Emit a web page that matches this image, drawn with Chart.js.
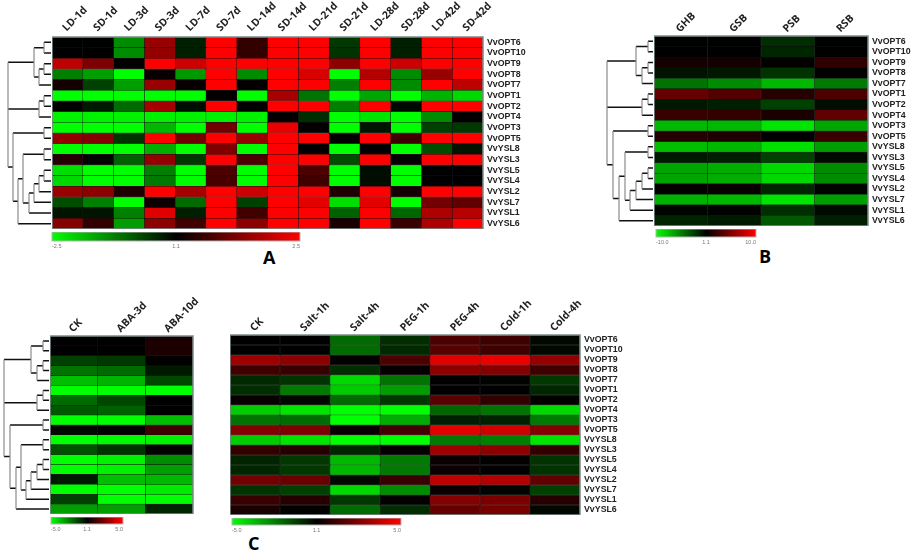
<!DOCTYPE html>
<html>
<head>
<meta charset="utf-8">
<title>Expression heat maps</title>
<script src="https://cdn.jsdelivr.net/npm/chart.js@4"></script>
<style>
  html, body { margin: 0; padding: 0; background: #fff; }
  body { width: 914px; height: 553px; position: relative; overflow: hidden; }
  canvas { position: absolute; }
  .tag { position: absolute; font: bold 18px "Open Sans", sans-serif; line-height: 18px; color: #000; }
</style>
</head>
<body>
<div class="tag" style="left:263px;top:248px">A</div>
<div class="tag" style="left:759px;top:247px">B</div>
<div class="tag" style="left:248px;top:534px">C</div>

<script>
let geneLabels = ['VvOPT6','VvOPT10','VvOPT9','VvOPT8','VvOPT7','VvOPT1','VvOPT2','VvOPT4','VvOPT3','VvOPT5',
  'VvYSL8','VvYSL3','VvYSL5','VvYSL4','VvYSL2','VvYSL7','VvYSL1','VvYSL6'];

let colsA = ['LD-1d','SD-1d','LD-3d','SD-3d','LD-7d','SD-7d','LD-14d','SD-14d','LD-21d','SD-21d','LD-28d','SD-28d','LD-42d','SD-42d'];
let colsB = ['GHB','GSB','PSB','RSB'];
let colsC1 = ['CK','ABA-3d','ABA-10d'];
let colsC2 = ['CK','Salt-1h','Salt-4h','PEG-1h','PEG-4h','Cold-1h','Cold-4h'];

// cell values as percent of the colour scale: -100 full green, 0 black, 100 full red
let valuesA = [
  [0,0,-55,60,-12,100,20,100,100,-22,100,-12,100,100],
  [0,0,-55,58,-12,100,20,100,100,-20,100,-12,100,100],
  [75,50,0,100,80,100,100,100,100,55,100,80,100,100],
  [-50,-62,-100,3,-60,100,-55,100,85,-100,70,-55,60,100],
  [8,-25,-62,60,3,100,2,100,100,-50,100,-55,100,75],
  [-100,-100,-100,-100,-100,2,-100,65,-45,-100,-65,-100,-70,-85],
  [2,-10,-42,65,-5,100,2,100,100,-50,100,-3,100,100],
  [-95,-95,-95,-95,-95,-95,-95,2,-18,-100,-90,-100,-55,2],
  [-100,-100,-100,-72,-100,45,-100,92,2,-100,-8,-100,-25,-22],
  [58,52,-20,100,45,100,60,100,100,2,100,25,100,100],
  [-100,-100,-100,-68,-100,50,-100,100,2,-100,2,-100,-30,-8],
  [15,-2,-38,58,-22,100,30,100,100,-30,100,2,100,100],
  [-88,-100,-100,-50,-100,30,-100,100,30,-100,-5,-100,0,0],
  [-85,-100,-100,-48,-100,28,-100,100,25,-100,-5,-100,0,0],
  [60,55,12,100,65,100,80,100,100,12,100,8,100,100],
  [-30,-50,-100,5,-42,100,-25,100,90,-88,90,-100,45,38],
  [-8,-8,-50,88,-12,100,25,100,100,-38,100,-40,68,72],
  [52,20,-62,55,25,100,55,100,100,10,100,22,68,100]
];
let valuesB = [
  [0,0,-18,0],[0,0,-15,0],[8,8,1,18],[-7,-9,-20,1],[-45,-55,-72,-48],[40,32,15,30],
  [-9,-12,-25,-5],[22,20,10,38],[-72,-72,-90,-65],[15,12,0,22],[-75,-72,-88,-62],[-10,-12,-25,-4],
  [-65,-68,-85,-55],[-65,-68,-85,-55],[1,3,-15,-1],[-70,-72,-90,-62],[-2,-1,-18,-4],[-14,-10,-35,-12]
];
let valuesC1 = [
  [0,0,10],[0,0,10],[-25,-22,1],[-45,-42,-10],[-75,-70,-28],[-100,-100,-100],
  [-42,-28,0],[-35,-38,0],[-100,-100,-75],[-3,-1,25],[-100,-98,-95],[-32,-20,1],
  [-100,-95,-55],[-100,-95,-62],[-10,-75,-72],[-100,-100,-92],[-25,-100,-100],[-62,-62,-15]
];
let valuesC2 = [
  [0,0,-42,-18,30,25,-3],
  [0,0,-42,-16,35,25,-3],
  [62,55,1,30,88,92,58],
  [25,22,-18,2,55,52,25],
  [-16,-20,-85,-45,0,-1,-22],
  [-18,-48,-80,-62,0,0,-15],
  [3,-3,-42,-22,35,20,1],
  [-80,-90,-100,-100,-40,-45,-85],
  [-45,-42,-100,-68,-12,-13,-48],
  [52,50,3,27,90,82,52],
  [-80,-90,-100,-100,-48,-50,-90],
  [20,15,-15,2,62,55,20],
  [-14,-22,-72,-48,4,1,-20],
  [-15,-22,-72,-48,5,1,-20],
  [45,42,-3,22,75,70,38],
  [-20,-25,-85,-55,4,-2,-25],
  [22,15,-22,1,52,48,15],
  [10,1,-42,-18,40,48,-3]
];

let scaleA = ['-2.5','1.1','2.5'];
let scaleB = ['-10.0','1.1','10.0'];
let scaleC = ['-5.0','1.1','5.0'];

// clustering, same topology in all three trees: [level, child, child...], a plain number is a row
let geneTree = [7,
  [2, [0,0,1], [1,[0,2,3],4]],
  [1, [0,5,6], 7],
  [6, [0,8,9], [5, [4,[0,10,11],[3,[2,[1,[0,12,13],14],15],16]], 17]]
];
// distance of each tree level from the heat map edge
let levelsA = [8,13,18,23,29,34,39,44];
let levelsB = [6,12,18,24,29,35,41,47];
let levelsC = [7,13,19,24,29,34,40,46];

function cellColor(v){
  let c = Math.round(Math.abs(v) * 2.55);
  return v < 0 ? `rgb(0,${c},0)` : `rgb(${c},0,0)`;
}

function addCanvas(left, top, width, height){
  let el = document.createElement('canvas');
  el.width = width;
  el.height = height;
  el.style.left = left + 'px';
  el.style.top = top + 'px';
  el.style.width = width + 'px';
  el.style.height = height + 'px';
  document.body.appendChild(el);
  return el;
}

let framePlugin = {
  id: 'frame',
  afterDraw(chart, args, opts){
    let a = chart.chartArea;
    chart.ctx.save();
    chart.ctx.strokeStyle = opts.color;
    chart.ctx.lineWidth = opts.width;
    chart.ctx.strokeRect(a.left, a.top, a.right - a.left, a.bottom - a.top);
    chart.ctx.restore();
  }
};

function drawHeatmap(cols, values, left, top, width, height, showGenes, headGap){
  let headH = 44;
  let rightW = 60;
  // column names start a little right of the column centre
  let nudge = 6 * cols.length / width;
  let canvas = addCanvas(left, top - headH, width + rightW, height + headH);

  let datasets = cols.map((name, c) => ({
    label: name,
    data: geneLabels.map(() => [c, c + 1]),
    backgroundColor: values.map(row => cellColor(row[c])),
    borderColor: 'rgba(0,0,0,0.85)',
    borderWidth: 0.5,
    borderSkipped: false,
    barPercentage: 1,
    categoryPercentage: 1,
    grouped: false
  }));

  return new Chart(canvas, {
    type: 'bar',
    data: { labels: geneLabels, datasets: datasets },
    plugins: [framePlugin],
    options: {
      indexAxis: 'y',
      responsive: false,
      animation: false,
      events: [],
      plugins: {
        legend: { display: false },
        tooltip: { enabled: false },
        frame: { color: '#7d8a8a', width: 1.5 }
      },
      scales: {
        x: {
          type: 'linear',
          position: 'top',
          min: 0,
          max: cols.length,
          grid: { display: false, drawTicks: false },
          border: { display: false },
          afterBuildTicks(s){ s.ticks = cols.map((n, i) => ({ value: i + 0.5 + nudge })); },
          afterFit(s){ s.height = headH; s.paddingLeft = 0; s.paddingRight = 0; },
          ticks: {
            autoSkip: false,
            minRotation: 45,
            maxRotation: 45,
            padding: headGap,
            color: '#222',
            font: { family: '"Open Sans"', size: 10.5, weight: 'bold' },
            callback: (v, i) => cols[i]
          }
        },
        y: {
          display: showGenes,
          position: 'right',
          grid: { display: false, drawTicks: false },
          border: { display: false },
          afterFit(s){ s.width = rightW; s.paddingTop = 0; s.paddingBottom = 0; },
          ticks: {
            autoSkip: false,
            padding: 4,
            color: '#222',
            font: { family: '"Liberation Sans"', size: 8.8, weight: 'bold' }
          }
        }
      }
    }
  });
}

function drawTree(levels, left, top, width, height){
  let canvas = addCanvas(left, top, width, height);
  let across = [];
  let down = [];

  function walk(node){
    if (typeof node === 'number'){
      return { y: node, d: 1 };
    }
    let d = levels[node[0]];
    let kids = node.slice(1).map(walk);
    kids.forEach(k => {
      across.push({ x: k.d, y: k.y }, { x: d, y: k.y }, { x: NaN, y: NaN });
    });
    let first = kids[0].y;
    let last = kids[kids.length - 1].y;
    down.push({ x: d, y: first }, { x: d, y: last }, { x: NaN, y: NaN });
    return { y: (first + last) / 2, d: d };
  }
  walk(geneTree);

  return new Chart(canvas, {
    type: 'scatter',
    data: {
      datasets: [
        { data: down, showLine: true, borderColor: '#8c8c8c', borderWidth: 1.2, pointRadius: 0 },
        { data: across, showLine: true, borderColor: '#111', borderWidth: 1.5, pointRadius: 0 }
      ]
    },
    options: {
      responsive: false,
      animation: false,
      events: [],
      plugins: { legend: { display: false }, tooltip: { enabled: false } },
      scales: {
        x: { type: 'linear', display: false, reverse: true, min: 0, max: width },
        y: { type: 'linear', display: false, reverse: true, min: -0.5, max: geneLabels.length - 0.5 }
      }
    }
  });
}

function drawScale(labels, left, top, width, barH){
  let pad = 4;
  let canvas = addCanvas(left - pad, top, width + pad * 2, barH + 12);

  return new Chart(canvas, {
    type: 'bar',
    data: {
      labels: ['scale'],
      datasets: [{
        data: [[0, labels.length - 1]],
        barPercentage: 1,
        categoryPercentage: 1,
        borderWidth: 0,
        backgroundColor(ctx){
          let a = ctx.chart.chartArea;
          if (!a) return '#000';
          let g = ctx.chart.ctx.createLinearGradient(a.left, 0, a.right, 0);
          g.addColorStop(0, '#00ff00');
          g.addColorStop(0.5, '#000000');
          g.addColorStop(1, '#ff0000');
          return g;
        }
      }]
    },
    plugins: [framePlugin],
    options: {
      indexAxis: 'y',
      responsive: false,
      animation: false,
      events: [],
      layout: { padding: { left: pad, right: pad, top: 0, bottom: 0 } },
      plugins: {
        legend: { display: false },
        tooltip: { enabled: false },
        frame: { color: '#b5b5b5', width: 1 }
      },
      scales: {
        x: {
          type: 'linear',
          min: 0,
          max: labels.length - 1,
          grid: { display: false, drawTicks: false },
          border: { display: false },
          afterBuildTicks(s){ s.ticks = labels.map((n, i) => ({ value: i })); },
          afterFit(s){ s.height = 12; s.paddingLeft = 0; s.paddingRight = 0; },
          ticks: {
            autoSkip: false,
            maxRotation: 0,
            align: 'inner',
            padding: 2,
            color: '#777',
            font: { family: '"Liberation Sans"', size: 5.5 },
            callback: v => labels[v]
          }
        },
        y: { display: false }
      }
    }
  });
}

// panel A
drawTree(levelsA, 0, 37, 52, 192);
drawHeatmap(colsA, valuesA, 52, 37, 431, 192, true, 3);
drawScale(scaleA, 52, 232, 248, 9);

// panel B
drawTree(levelsB, 600, 36, 54, 190);
drawHeatmap(colsB, valuesB, 654, 36, 214, 190, true, 1);
drawScale(scaleB, 656, 229, 100, 8);

// panel C
drawTree(levelsC, 0, 336, 50, 178);
drawHeatmap(colsC1, valuesC1, 50, 336, 143, 178, false, 1);
drawScale(scaleC, 51, 517, 72, 7);
drawHeatmap(colsC2, valuesC2, 230, 335, 350, 180, true, 1);
drawScale(scaleC, 232, 518, 169, 7);
</script>
</body>
</html>
